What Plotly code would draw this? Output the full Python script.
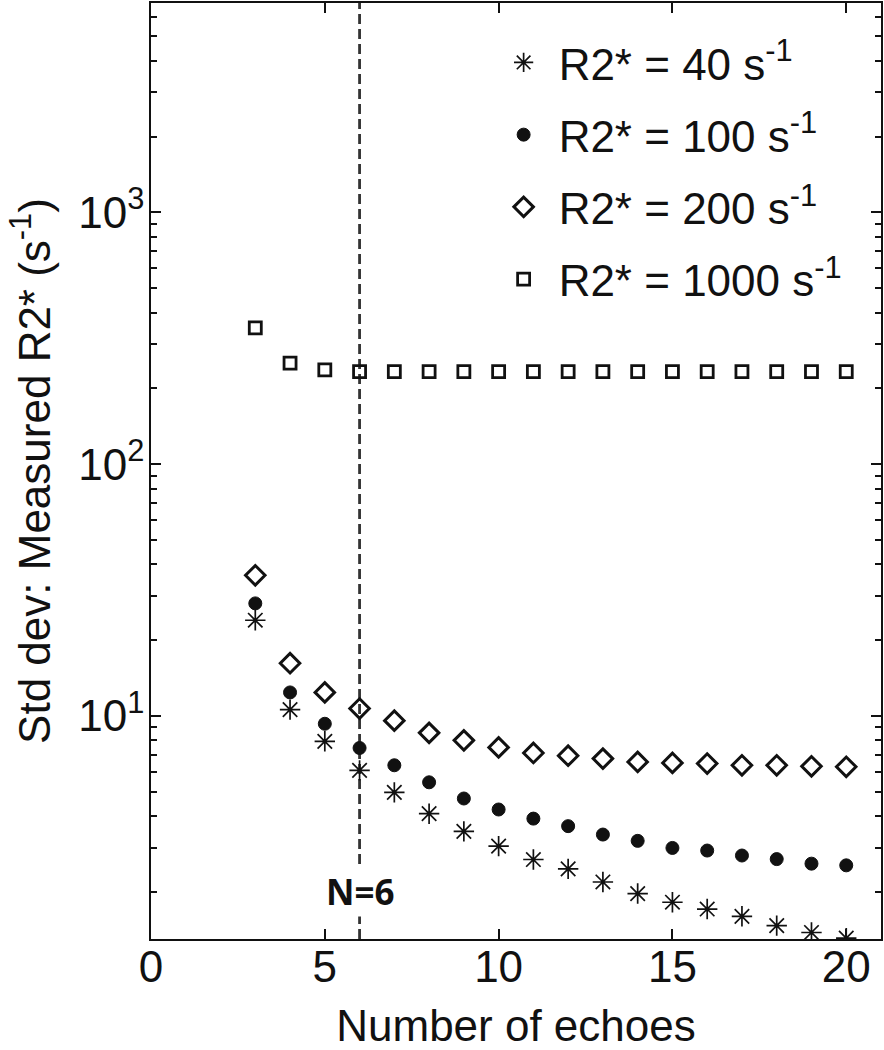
import plotly.graph_objects as go

# ---- data ----
echoes = list(range(3, 21))
std_r2_40 = [24.0, 10.6, 7.93, 6.08, 4.97, 4.09, 3.48, 3.04, 2.69, 2.47,
             2.19, 1.97, 1.82, 1.71, 1.60, 1.47, 1.38, 1.31]
std_r2_100 = [28.0, 12.4, 9.31, 7.46, 6.37, 5.45, 4.70, 4.25, 3.91, 3.65,
              3.38, 3.19, 2.99, 2.92, 2.79, 2.70, 2.59, 2.55]
std_r2_200 = [36.2, 16.2, 12.4, 10.7, 9.58, 8.57, 8.00, 7.50, 7.13, 6.95,
              6.77, 6.57, 6.51, 6.47, 6.37, 6.37, 6.31, 6.28]
std_r2_1000 = [348, 252, 237, 233, 233, 233, 233, 233, 233, 233,
               233, 233, 233, 233, 233, 233, 233, 233]

series_names = ["R2* = 40 s<sup>-1</sup>", "R2* = 100 s<sup>-1</sup>",
                "R2* = 200 s<sup>-1</sup>", "R2* = 1000 s<sup>-1</sup>"]
x_ticks = [0, 5, 10, 15, 20]
y_ticks = [10, 100, 1000]
y_ticktext = ["10<sup>1</sup>", "10<sup>2</sup>", "10<sup>3</sup>"]
n_marker = 6
y_range_log = [0.114, 3.832]

FONT = "Liberation Sans, Arial, sans-serif"
INK = "#111111"

minor_vals = [m * 10 ** k for k in range(0, 4) for m in range(2, 10)]

fig = go.Figure()
fig.add_trace(go.Scatter(
    x=echoes, y=std_r2_40, mode="markers", name=series_names[0], legendgroup="a",
    marker=dict(symbol="asterisk-open", size=17, color=INK, line=dict(width=1.7, color=INK))))
fig.add_trace(go.Scatter(
    x=echoes, y=std_r2_100, mode="markers", name=series_names[1], legendgroup="b",
    marker=dict(symbol="circle", size=13, color=INK, line=dict(width=1, color=INK))))
fig.add_trace(go.Scatter(
    x=echoes, y=std_r2_200, mode="markers", name=series_names[2], legendgroup="c",
    marker=dict(symbol="diamond-open", size=15, color=INK, line=dict(width=3, color=INK))))
fig.add_trace(go.Scatter(
    x=echoes, y=std_r2_1000, mode="markers", name=series_names[3], legendgroup="d",
    marker=dict(symbol="square-open", size=12, color=INK, line=dict(width=2.8, color=INK))))
# invisible trace carrying the minor-tick overlay axis
fig.add_trace(go.Scatter(
    x=echoes, y=std_r2_1000, mode="markers", xaxis="x", yaxis="y2", showlegend=False,
    hoverinfo="skip", marker=dict(opacity=0)))

fig.add_shape(type="line", x0=n_marker, x1=n_marker, xref="x", yref="paper", y0=0, y1=1,
              line=dict(color="#333333", width=2.8, dash="10px,5px"), layer="below")
fig.add_annotation(x=n_marker, y=0.303, xref="x", yref="y", text="<b>N=6</b>",
                   showarrow=False, bgcolor="white",
                   font=dict(family="Open Sans, Liberation Sans, sans-serif", size=35, color=INK))

fig.update_layout(
    width=884, height=1050,
    margin=dict(l=151, r=3, t=3, b=111),
    paper_bgcolor="white", plot_bgcolor="white",
    font=dict(family=FONT, color=INK, size=44),
    showlegend=True,
    legend=dict(x=0.4625, y=0.974, xanchor="left", yanchor="top",
                bgcolor="rgba(0,0,0,0)", borderwidth=0,
                font=dict(family=FONT, size=44, color=INK),
                tracegroupgap=12, itemwidth=60),
    xaxis=dict(range=[0, 21], tickvals=x_ticks, ticks="inside", ticklen=10, tickwidth=1.5,
               tickcolor=INK, showline=True, linecolor=INK, linewidth=1.8, mirror="ticks",
               showgrid=False, zeroline=False, tickfont=dict(size=44), automargin=False,
               ticklabelstandoff=-12,
               title=dict(text="Number of echoes", font=dict(size=44), standoff=24)),
    yaxis=dict(type="log", range=y_range_log, tickvals=y_ticks, ticktext=y_ticktext,
               ticks="inside", ticklen=10, tickwidth=1.5, tickcolor=INK,
               showline=True, linecolor=INK, linewidth=1.8, mirror="ticks",
               showgrid=False, zeroline=False, tickfont=dict(size=44), automargin=False,
               ticklabelstandoff=-4,
               title=dict(text="Std dev: Measured R2* (s<sup>-1</sup>)", font=dict(size=44),
                          standoff=14)),
    yaxis2=dict(type="log", range=y_range_log, overlaying="y", side="left", anchor="x",
                tickvals=minor_vals, ticks="inside", ticklen=6, tickwidth=1.5, tickcolor=INK,
                showticklabels=False, showline=True, linecolor=INK, linewidth=1.8,
                mirror="ticks", showgrid=False, zeroline=False, automargin=False),
)

fig.write_html("out.html", config={"displayModeBar": False},
               post_script="document.body.style.margin='0';")
